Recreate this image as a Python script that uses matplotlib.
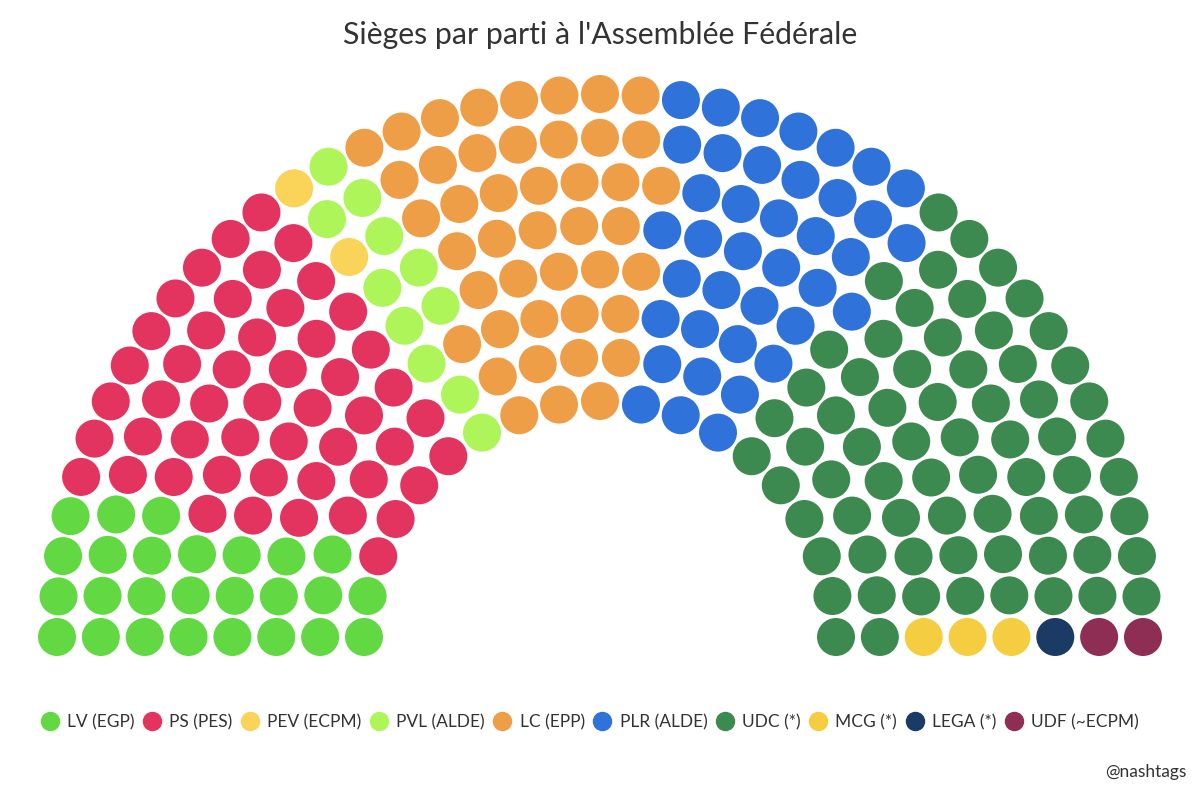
import matplotlib
matplotlib.use("Agg")
import matplotlib.pyplot as plt
from matplotlib.patches import Circle
from matplotlib.lines import Line2D
import numpy as np

# partis, dans l'ordre de gauche a droite
partis = ["LV (EGP)", "PS (PES)", "PEV (ECPM)", "PVL (ALDE)", "LC (EPP)",
          "PLR (ALDE)", "UDC (*)", "MCG (*)", "LEGA (*)", "UDF (~ECPM)"]
sieges = [26, 50, 2, 11, 44, 39, 68, 3, 1, 2]
couleurs = ["#62d943", "#e3345f", "#f9d458", "#aef55a", "#ef9e48",
            "#2f72d9", "#3d8a51", "#f4cd40", "#1b3a66", "#8e2e55"]

total = sum(sieges)
nb_rangs = 8

fig = plt.figure(figsize=(12, 8.01), dpi=100)
ax = fig.add_axes([0, 0, 1, 1])
ax.set_xlim(0, 1200)
ax.set_ylim(801, 0)
ax.set_aspect("equal")
ax.axis("off")

# hemicycle: centre, rayons interieur / exterieur
cx, cy = 600, 637
rayons = np.linspace(236, 543, nb_rangs)
parts = total * rayons / rayons.sum()
par_rang = np.round(parts).astype(int)
par_rang[-1] += total - par_rang.sum()

xs, ys, angles, rs = [], [], [], []
for r, n in zip(rayons, par_rang):
    for j in range(n):
        a = j * np.pi / (n - 1)
        angles.append(round(a, 9))
        rs.append(r)
        xs.append(cx - r * np.cos(a))
        ys.append(cy - r * np.sin(a))

# tri par angle puis du rang interieur vers l'exterieur
ordre = np.lexsort((np.array(rs), np.array(angles)))
col_siege = np.repeat(couleurs, sieges)
for k, idx in enumerate(ordre):
    ax.add_patch(Circle((xs[idx], ys[idx]), 19, color=col_siege[k], lw=0))

ax.text(600, 35, "Sièges par parti à l'Assemblée Fédérale", ha="center", va="center",
        fontsize=21.8, family="Lato", color="#333333")

handles = [Line2D([], [], marker="o", ls="", markersize=13, markerfacecolor=c,
                  markeredgecolor=c) for c in couleurs]
leg = fig.legend(handles, partis, loc="center", bbox_to_anchor=(590 / 1200, 1 - 722 / 801),
                 ncol=10, frameon=False, handletextpad=0.5, columnspacing=0.5,
                 handlelength=1.0, prop={"family": "Lato", "size": 12.5})
for t in leg.get_texts():
    t.set_color("#333333")

ax.text(1187, 772, "@nashtags", ha="right", va="center", fontsize=12.5,
        family="Lato", color="#333333")

fig.savefig("out.png", dpi=100, facecolor="white")
